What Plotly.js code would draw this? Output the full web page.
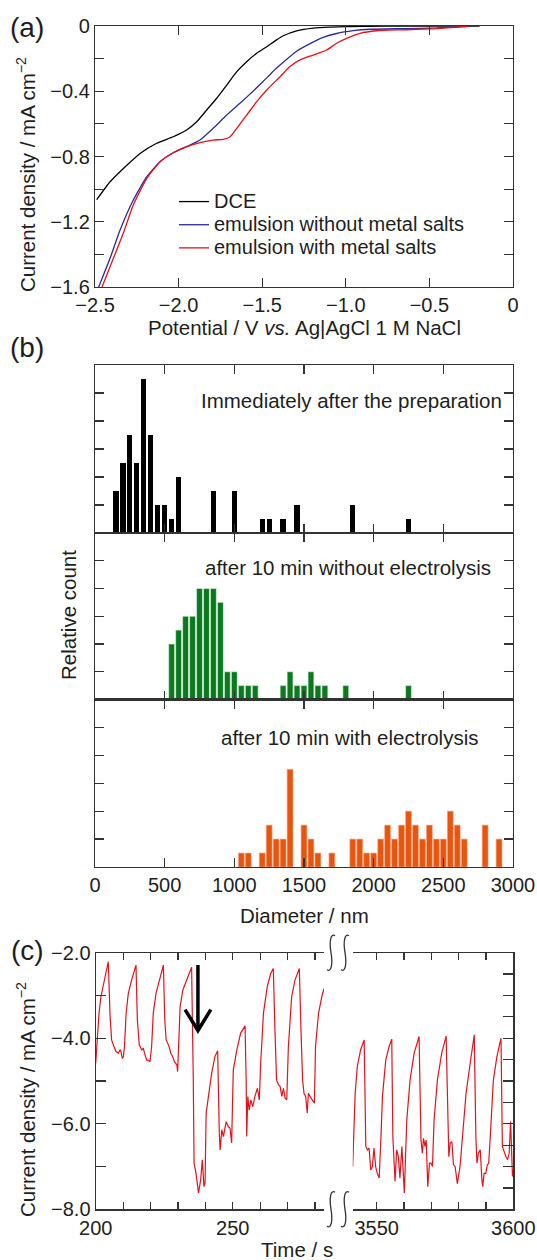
<!DOCTYPE html>
<html>
<head>
<meta charset="utf-8">
<script src="https://cdn.plot.ly/plotly-3.0.1.min.js"></script>
<style>html,body{margin:0;padding:0;background:#fff;}#plot{width:537px;height:1260px;}</style>
</head>
<body>
<div id="plot"></div>
<script>
// ---------- Panel (a): linear sweep voltammograms ----------
const potDCE = [-2.49,-2.41,-2.33,-2.23,-2.131,-2.032,-1.952,-1.892,-1.832,-1.772,-1.712,-1.652,-1.593,-1.533,-1.473,-1.414,-1.374,-1.294,-1.194,-1.095,-0.995,-0.755,-0.5,-0.2];
const curDCE = [-1.065,-0.955,-0.873,-0.781,-0.719,-0.679,-0.638,-0.587,-0.515,-0.443,-0.362,-0.280,-0.219,-0.167,-0.127,-0.085,-0.060,-0.030,-0.013,-0.007,-0.004,-0.001,0,0];
const potNoSalt = [-2.478,-2.41,-2.35,-2.271,-2.19,-2.111,-2.032,-1.952,-1.872,-1.793,-1.712,-1.633,-1.553,-1.473,-1.414,-1.374,-1.294,-1.214,-1.135,-1.055,-0.955,-0.856,-0.656,-0.457,-0.278];
const curNoSalt = [-1.60,-1.424,-1.251,-1.067,-0.924,-0.832,-0.777,-0.740,-0.699,-0.627,-0.546,-0.474,-0.398,-0.318,-0.258,-0.222,-0.155,-0.108,-0.070,-0.046,-0.029,-0.020,-0.016,-0.012,-0.004];
const potSalt = [-2.458,-2.39,-2.331,-2.271,-2.19,-2.111,-2.032,-1.952,-1.872,-1.793,-1.732,-1.692,-1.652,-1.593,-1.533,-1.473,-1.393,-1.334,-1.274,-1.194,-1.114,-1.055,-0.995,-0.915,-0.815,-0.656,-0.457,-0.267];
const curSalt = [-1.60,-1.424,-1.271,-1.097,-0.934,-0.832,-0.777,-0.740,-0.715,-0.699,-0.695,-0.679,-0.627,-0.546,-0.464,-0.392,-0.311,-0.249,-0.208,-0.178,-0.147,-0.106,-0.076,-0.045,-0.029,-0.023,-0.016,0];
const namesA = ['DCE','emulsion without metal salts','emulsion with metal salts'];

// ---------- Panel (b): size distributions ----------
const diamPrep = [150,200,250,300,350,400,450,500,550,600,850,1000,1200,1250,1350,1450,1850,2250];
const countPrep = [3,5,7,5,11,7,2,2,1,4,3,3,1,1,1,2,2,1];
const diamNoEl = [550,600,650,700,750,800,850,900,950,1000,1050,1100,1150,1350,1400,1450,1500,1550,1600,1650,1800,2250];
const countNoEl = [4,5,6,6,8,8,8,7,2,2,1,1,1,1,2,1,1,2,1,1,1,1];
const diamEl = [1050,1100,1200,1250,1300,1350,1400,1500,1550,1600,1700,1850,1900,1950,2000,2050,2100,2150,2200,2250,2300,2350,2400,2450,2500,2550,2600,2650,2800,2900];
const countEl = [1,1,1,3,2,2,7,3,2,1,1,2,2,1,1,2,3,2,3,4,3,2,3,2,2,4,3,2,3,2];
const labelsB = ['Immediately after the preparation','after 10 min without electrolysis','after 10 min with electrolysis'];
const diamTicks = [0,500,1000,1500,2000,2500,3000];

// ---------- Panel (c): chronoamperogram ----------
const timeEarly = [200.0,200.6,201.2,201.9,202.8,203.8,204.6,205.2,205.8,206.7,207.4,208.3,208.9,209.2,209.7,210.1,210.5,211.1,211.9,213.1,214.7,215.2,215.9,216.8,217.4,217.8,218.2,218.6,219.2,219.8,220.4,221.0,222.0,223.2,224.7,225.2,225.7,226.3,226.8,227.4,228.1,228.7,229.6,229.9,230.4,230.8,231.8,233.2,234.7,235.0,235.6,235.9,236.6,237.5,238.3,238.9,239.5,239.9,240.3,241.1,242.3,243.5,244.5,245.1,245.4,246.0,246.6,247.6,248.4,249.0,249.6,250.2,251.5,252.9,254.5,254.9,255.1,255.5,256.0,256.6,257.3,258.1,259.0,259.7,260.2,261.2,262.6,263.9,264.8,265.4,266.0,266.7,267.3,267.9,268.5,269.1,269.7,270.3,271.5,272.7,274.3,274.9,275.5,276.0,276.6,277.2,277.6,278.2,279.1,279.8,280.2,281.3,282.5,283.3];
const curEarly = [-4.59,-3.96,-3.42,-3.03,-2.76,-2.48,-2.21,-3.42,-4.04,-4.20,-4.31,-4.35,-4.27,-4.31,-4.47,-4.43,-4.20,-3.42,-2.95,-2.64,-2.29,-3.57,-4.16,-4.27,-4.24,-4.35,-4.43,-4.51,-4.51,-4.55,-4.20,-3.42,-2.95,-2.64,-2.29,-3.57,-4.04,-4.12,-4.20,-4.35,-4.43,-4.55,-4.62,-4.78,-3.81,-3.26,-2.87,-2.64,-2.37,-2.34,-4.98,-6.92,-7.16,-7.62,-7.31,-6.84,-7.47,-7.39,-5.75,-5.36,-4.82,-4.43,-4.29,-6.22,-6.61,-6.14,-6.30,-5.95,-6.07,-6.10,-6.45,-4.74,-4.27,-3.88,-3.71,-4.98,-6.30,-5.36,-5.68,-5.44,-5.60,-5.36,-5.17,-5.44,-4.59,-3.42,-2.79,-2.48,-2.37,-3.81,-4.98,-5.09,-5.13,-5.36,-5.17,-5.40,-5.44,-4.20,-3.03,-2.64,-2.37,-3.81,-4.98,-5.29,-5.36,-5.75,-5.29,-5.36,-5.44,-5.52,-4.20,-3.42,-3.03,-2.84];
const timeLate = [3541.2,3541.5,3542.1,3542.9,3544.1,3545.4,3546.0,3546.6,3547.2,3547.8,3548.4,3549.0,3549.6,3550.2,3550.9,3551.5,3552.1,3553.3,3554.5,3555.5,3555.9,3556.7,3557.3,3557.9,3558.5,3559.2,3560.1,3561.0,3562.2,3563.7,3565.5,3566.2,3566.7,3567.1,3567.7,3568.1,3568.7,3569.3,3569.9,3570.4,3571.0,3572.2,3573.8,3575.4,3576.0,3576.4,3576.9,3577.5,3578.1,3578.7,3579.5,3580.5,3581.5,3582.7,3584.2,3585.7,3586.3,3586.7,3587.2,3587.9,3588.5,3588.8,3589.3,3589.9,3590.5,3591.0,3591.5,3592.7,3594.0,3595.5,3596.0,3596.6,3597.3,3597.9,3598.5,3599.0,3599.3,3599.7,3600.0];
const curLate = [-7.00,-6.22,-5.29,-4.66,-4.27,-4.04,-6.53,-6.61,-6.57,-7.08,-7.00,-6.57,-7.00,-7.16,-7.27,-6.38,-5.36,-4.51,-4.20,-4.02,-6.30,-7.35,-6.61,-6.77,-7.27,-6.53,-7.62,-5.91,-4.98,-4.35,-3.96,-6.38,-6.69,-6.34,-6.53,-6.38,-7.47,-6.92,-6.92,-7.00,-5.91,-4.98,-4.35,-3.95,-5.91,-6.77,-6.45,-6.42,-6.96,-7.00,-7.40,-7.00,-6.22,-5.29,-4.59,-3.92,-6.30,-6.92,-6.69,-6.61,-7.31,-7.47,-7.16,-7.16,-6.96,-6.92,-6.38,-4.98,-4.43,-4.00,-6.53,-6.65,-6.77,-6.84,-6.69,-5.95,-6.69,-7.23,-7.08];

// ---------- helpers ----------
const W = 537, H = 1260;
const FONT = 'Liberation Sans, Arial, Helvetica, sans-serif';
const px = p => p / W;
const py = p => 1 - p / H;
const AX = '#333';
const TXT = '#1e1e1e';
const FS = 20;

const base = {
  showline: true, linecolor: AX, linewidth: 1.2, ticks: 'inside', tickcolor: AX,
  ticklen: 9, tickwidth: 1.2, mirror: 'ticks', zeroline: false, showgrid: false,
  tickfont: {family: FONT, size: FS, color: TXT}, fixedrange: true
};
const ax = o => Object.assign({}, base, o);
const minorT = (vals, len) => ({tickmode: 'array', tickvals: vals, ticks: 'inside', ticklen: len || 9, tickwidth: 1.2, tickcolor: AX, showgrid: false});

const xA = [px(95), px(513)];

// ticks
const aXT = [-2.5,-2.0,-1.5,-1.0,-0.5,0];
const aXL = ['\u22122.5','\u22122.0','\u22121.5','\u22121.0','\u22120.5','0'];
const aYT = [0,-0.4,-0.8,-1.2,-1.6];
const aYL = ['0','\u22120.4','\u22120.8','\u22121.2','\u22121.6'];
const aYm = [-0.2,-0.6,-1.0,-1.4];
const cYT = [-2,-4,-6,-8];
const cYL = ['\u22122.0','\u22124.0','\u22126.0','\u22128.0'];
const cYm = [-3,-5,-7];
const cYT2 = [-2,-2.5,-3,-3.5,-4,-4.5,-5,-5.5,-6,-6.5,-7,-7.5,-8];
const cXT1 = [200,250], cXm1 = [210,220,230,240,260,270,280];
const cXT2 = [3550,3600], cXm2 = [3560,3570,3580,3590];

const lineW = 1.3;
const lgName = s => '<span style="font-size:20px">' + s + '</span>';
const traces = [
  {x: potDCE, y: curDCE, type: 'scatter', mode: 'lines', name: lgName(namesA[0]), line: {color: '#000', width: lineW, shape: 'spline', smoothing: 0.5}, xaxis: 'x', yaxis: 'y'},
  {x: potNoSalt, y: curNoSalt, type: 'scatter', mode: 'lines', name: lgName(namesA[1]), line: {color: '#2a2a9a', width: lineW, shape: 'spline', smoothing: 0.5}, xaxis: 'x', yaxis: 'y'},
  {x: potSalt, y: curSalt, type: 'scatter', mode: 'lines', name: lgName(namesA[2]), line: {color: '#e8101a', width: lineW, shape: 'spline', smoothing: 0.5}, xaxis: 'x', yaxis: 'y'},
  {x: diamPrep, y: countPrep, type: 'bar', width: 38, marker: {color: '#000', line: {width: 0}}, showlegend: false, xaxis: 'x2', yaxis: 'y2'},
  {x: diamNoEl, y: countNoEl, type: 'bar', width: 42, marker: {color: '#0a7a1f', line: {color: '#e8f3e8', width: 0.6}}, showlegend: false, xaxis: 'x3', yaxis: 'y3'},
  {x: diamEl, y: countEl, type: 'bar', width: 42, marker: {color: '#e8550c', line: {color: '#f7a58a', width: 0.6}}, showlegend: false, xaxis: 'x4', yaxis: 'y4'},
  {x: timeEarly, y: curEarly, type: 'scatter', mode: 'lines', line: {color: '#e8101a', width: 1.2}, showlegend: false, xaxis: 'x5', yaxis: 'y5'},
  {x: timeLate, y: curLate, type: 'scatter', mode: 'lines', line: {color: '#e8101a', width: 1.2}, showlegend: false, xaxis: 'x6', yaxis: 'y6'}
];

// axis-break marks (decoration) as paper-space paths
function brk(cx, cy) {
  const X = v => px(v).toFixed(5), Y = v => py(v).toFixed(5);
  return 'M' + X(cx+4) + ',' + Y(cy-17) +
    ' C' + X(cx) + ',' + Y(cy-20) + ' ' + X(cx-2) + ',' + Y(cy-12) + ' ' + X(cx) + ',' + Y(cy) +
    ' C' + X(cx+2) + ',' + Y(cy+12) + ' ' + X(cx) + ',' + Y(cy+20) + ' ' + X(cx-4) + ',' + Y(cy+17);
}
const shapes = [];
[952.7, 1209.3].forEach(cy => {
  [331, 345].forEach(cx => shapes.push({type: 'path', xref: 'paper', yref: 'paper', path: brk(cx, cy), line: {color: AX, width: 1.3}}));
});
// arrow in panel (c)
shapes.push({type: 'path', xref: 'x5', yref: 'y5', path: 'M237.3,-2.29 L237.3,-3.78', line: {color: '#000', width: 3.5}});
shapes.push({type: 'path', xref: 'x5', yref: 'y5', path: 'M232.6,-3.33 L237.3,-3.82 L242.0,-3.33', line: {color: '#000', width: 3.5}});

const tf = sz => ({family: FONT, size: sz, color: TXT});
const ann = (text, x, y, sz, extra) => Object.assign({text: text, xref: 'paper', yref: 'paper', x: px(x), y: py(y), xanchor: 'center', yanchor: 'middle', showarrow: false, font: tf(sz)}, extra || {});
const annotations = [
  ann('(a)', 27, 27, 28),
  ann('(b)', 27, 347, 28),
  ann('(c)', 27, 950, 28),
  ann('Current density / mA cm<sup>\u22122</sup>', 26, 175, 20.5, {textangle: -90}),
  ann('Potential / V <i>vs.</i> Ag|AgCl 1 M NaCl', 304, 328, 20.5),
  ann('Relative count', 68, 615, 20.5, {textangle: -90}),
  ann('Diameter / nm', 304, 915, 20.5),
  ann(labelsB[0], 351, 400, 20.5),
  ann(labelsB[1], 348, 568, 20.5),
  ann(labelsB[2], 349, 737, 20.5),
  ann('Current density / mA cm<sup>\u22122</sup>', 26, 1100, 20.5, {textangle: -90}),
  ann('Time / s', 297, 1249, 20.5)
];

const layout = {
  width: W, height: H, margin: {l: 0, r: 0, t: 0, b: 0},
  paper_bgcolor: '#fff', plot_bgcolor: 'rgba(0,0,0,0)',
  font: {family: FONT, size: FS, color: TXT},
  showlegend: true,
  legend: {x: px(174), y: py(185), xanchor: 'left', yanchor: 'top', bgcolor: 'rgba(0,0,0,0)', font: {family: FONT, size: 15.5, color: TXT}, tracegroupgap: 0, itemwidth: 30},
  bargap: 0,
  xaxis: ax({domain: xA, anchor: 'y', range: [-2.5, 0], tickmode: 'array', tickvals: aXT, ticktext: aXL}),
  yaxis: ax({domain: [py(287), py(26)], anchor: 'x', range: [-1.6, 0], tickmode: 'array', tickvals: aYT, ticktext: aYL, minor: minorT(aYm, 9)}),
  xaxis2: ax({domain: xA, anchor: 'y2', range: [0, 3000], tickmode: 'array', tickvals: diamTicks, showticklabels: false}),
  yaxis2: ax({domain: [py(533), py(365)], anchor: 'x2', range: [0, 12], tickmode: 'array', tickvals: [2,4,6,8,10], showticklabels: false}),
  xaxis3: ax({domain: xA, anchor: 'y3', range: [0, 3000], tickmode: 'array', tickvals: diamTicks, showticklabels: false}),
  yaxis3: ax({domain: [py(699.5), py(533)], anchor: 'x3', range: [0, 12], tickmode: 'array', tickvals: [2,4,6,8,10], showticklabels: false}),
  xaxis4: ax({domain: xA, anchor: 'y4', range: [0, 3000], tickmode: 'array', tickvals: diamTicks, ticktext: diamTicks.map(String)}),
  yaxis4: ax({domain: [py(867), py(699.5)], anchor: 'x4', range: [0, 12], tickmode: 'array', tickvals: [2,4,6,8,10], showticklabels: false}),
  xaxis5: ax({domain: [px(95.7), px(324)], anchor: 'y5', range: [200, 283.3], tickmode: 'array', tickvals: cXT1, ticktext: ['200','250'], ticklen: 7, minor: minorT(cXm1, 7)}),
  yaxis5: ax({domain: [py(1209.3), py(952.7)], anchor: 'x5', range: [-8, -2], tickmode: 'array', tickvals: cYT, ticktext: cYL, mirror: false, ticklen: 10, minor: minorT(cYm, 10)}),
  xaxis6: ax({domain: [px(352.7), px(513.3)], anchor: 'y6', range: [3541.2, 3600], tickmode: 'array', tickvals: cXT2, ticktext: ['3550','3600'], ticklen: 7, minor: minorT(cXm2, 7)}),
  yaxis6: ax({domain: [py(1209.3), py(952.7)], anchor: 'x6', side: 'right', range: [-8, -2], tickmode: 'array', tickvals: cYT2, showticklabels: false, mirror: false, ticklen: 10}),
  shapes: shapes,
  annotations: annotations
};

Plotly.newPlot('plot', traces, layout, {displayModeBar: false, staticPlot: true});
</script>
</body>
</html>
